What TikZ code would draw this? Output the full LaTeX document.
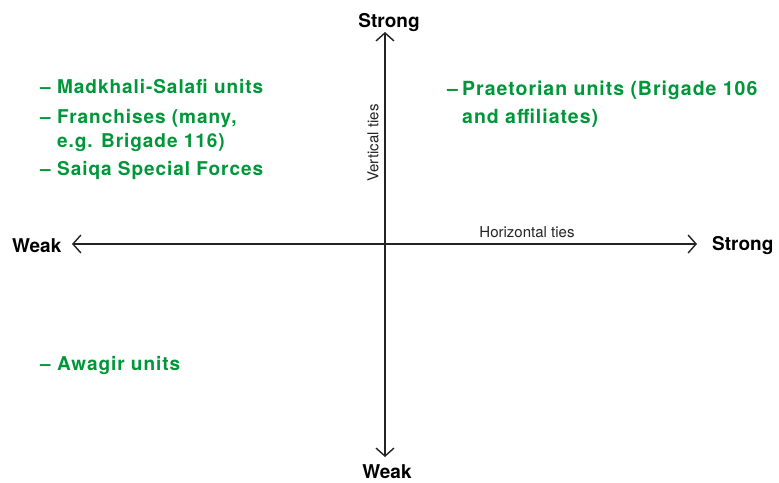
\documentclass[tikz,border=0pt]{standalone}
\usepackage{fontspec}
\setmainfont{TeX Gyre Heros}
\newfontfamily\unitfont[LetterSpace=5]{TeX Gyre Heros}
\usetikzlibrary{arrows.meta,positioning}
\definecolor{unitgreen}{RGB}{0,150,57}
\definecolor{axisgrey}{RGB}{35,35,35}
\tikzstyle{axis} = [line width=1.4pt, draw=axisgrey, -{Straight Barb[length=8pt,width=18pt,line width=1.4pt]}]
\tikzstyle{pole} = [inner sep=0pt, font=\fontsize{19}{23}\selectfont\bfseries, text=black]
\tikzstyle{tie} = [inner sep=0pt, font=\fontsize{15}{18}\selectfont, text=axisgrey]
\tikzstyle{unit} = [inner sep=0pt, anchor=base west, text=unitgreen, font=\unitfont\fontsize{19}{24}\selectfont\bfseries]
\newcommand{\unitdash}[1][17pt]{\makebox[#1][l]{–}}
\newcommand{\unitlines}[3][17pt]{\begin{tabular}[t]{@{}l@{}}\unitdash[#1]#2\\ \hspace*{#1}#3\end{tabular}}

\begin{document}
\begin{tikzpicture}[x=1pt, y=-1pt]
\useasboundingbox (0,0) rectangle (779,482);
\coordinate (o) at (385,244);
\coordinate (up) at (385,32);
\coordinate (down) at (385,457);
\coordinate (lt) at (72,244);
\coordinate (rt) at (697,244);
\draw [axis] (o)--(up);
\draw [axis] (o)--(down);
\draw [axis] (o)--(lt);
\draw [axis] (o)--(rt);
% axis ends
\node (vstrong) [pole, anchor=base] at (389,27) {Strong};
\node (vweak) [pole, anchor=base] at (387,478) {Weak};
\node (hweak) [pole, anchor=base west] at (12,252) {Weak};
\node (hstrong) [pole, anchor=base west] at (712,250) {Strong};
\node (vties) [tie, rotate=90] at (373,143) {Vertical ties};
\node (hties) [tie] at (527,232) {Horizontal ties};
% units
\node (madkhali) [unit] at (40,93) {\unitdash Madkhali-Salafi units};
\node (franchise) [unit] at (40,123) {\unitlines{Franchises (many,}{e.g. Brigade 116)}};
\node (saiqa) [unit] at (40,175) {\unitdash Saiqa Special Forces};
\node (awagir) [unit] at (40,370) {\unitdash Awagir units};
\node (praetor) [unit, font=\unitfont\fontsize{19.5}{28}\selectfont\bfseries] at (447,95) {\unitlines[15pt]{Praetorian units (Brigade 106}{and affiliates)}};
\end{tikzpicture}
\end{document}
